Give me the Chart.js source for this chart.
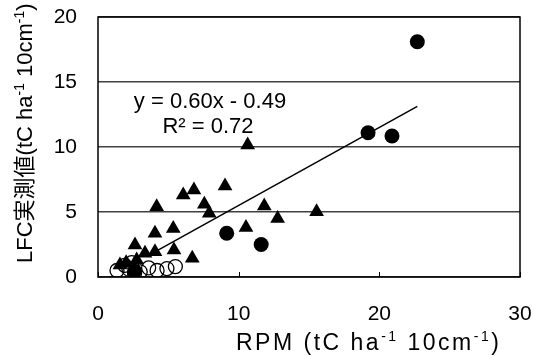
<!DOCTYPE html>
<html>
<head>
<meta charset="utf-8">
<script src="https://cdn.jsdelivr.net/npm/chart.js@4/dist/chart.umd.min.js"></script>
<style>
html,body{margin:0;padding:0;background:#fff;}
#wrap{width:534px;height:356px;}
</style>
</head>
<body>
<div id="wrap"><canvas id="c" width="534" height="356"></canvas></div>
<script>
// ---- data ----
const filledCircleX = [22.7, 19.2, 20.9, 9.15, 11.6, 2.6];
const filledCircleY = [18.1, 11.1, 10.85, 3.36, 2.5, 0.45];

const triangleX = [10.64, 6.06, 6.82, 9.03, 7.56, 7.91, 11.82, 12.77, 10.52, 5.35, 5.4, 6.7, 15.54, 4.17, 4.05, 2.63, 3.34, 4.05, 2.75, 2.0, 1.56];
const triangleY = [10.15, 6.3, 6.7, 7.0, 5.6, 4.9, 5.46, 4.5, 3.8, 3.74, 2.08, 1.44, 5.02, 5.4, 3.36, 2.46, 1.82, 1.95, 1.3, 1.1, 0.92];

const openCircleX = [1.35, 1.9, 2.4, 2.2, 3.0, 3.6, 4.2, 4.9, 5.5, 2.6];
const openCircleY = [0.5, 0.9, 1.1, 0.6, 0.4, 0.7, 0.5, 0.65, 0.8, 0.3];

const trendSlope = 0.60;
const trendIntercept = -0.49;
const trendRangeX = [3.5, 22.7];
const equationLines = ["y = 0.60x - 0.49", "R\u00b2 = 0.72"];

const xTicks = [0, 10, 20, 30];
const yTicks = [0, 5, 10, 15, 20];

const xTitleParts = [["RPM (tC ha", false], ["-1", true], [" 10cm", false], ["-1", true], [")", false]];
const yTitleParts = [["LFC実測値(tC ha", false], ["-1", true], [" 10cm", false], ["-1", true], [")", false]];

// ---- build ----
const pts = (xs, ys) => xs.map((x, i) => ({x: x, y: ys[i]}));
const trendData = trendRangeX.map(x => ({x: x, y: trendSlope * x + trendIntercept}));

const FONT = "'Liberation Sans', Arial, 'Noto Sans CJK JP', sans-serif";

function renderParts(ctx, parts, size, x0, baseline, spacing) {
  const supSize = Math.round(size * 0.62);
  let x = x0;
  parts.forEach(p => {
    ctx.font = (p[1] ? supSize : size) + "px " + FONT;
    for (const ch of p[0]) {
      ctx.fillText(ch, x, p[1] ? baseline - size * 0.38 : baseline);
      x += ctx.measureText(ch).width + (spacing || 0);
    }
  });
}

const decor = {
  id: 'decor',
  afterDraw(chart) {
    const ctx = chart.ctx;
    const a = chart.chartArea;
    const xs = chart.scales.x;
    ctx.save();
    // frame
    ctx.strokeStyle = '#000';
    ctx.lineWidth = 1.5;
    ctx.strokeRect(a.left, a.top, a.right - a.left, a.bottom - a.top);
    // inward x tick marks
    ctx.lineWidth = 1;
    xTicks.forEach(v => {
      const px = Math.round(xs.getPixelForValue(v)) + 0.5;
      ctx.beginPath();
      ctx.moveTo(px, a.bottom);
      ctx.lineTo(px, a.bottom - 5);
      ctx.stroke();
    });
    ctx.fillStyle = '#000';
    ctx.textBaseline = 'alphabetic';
    ctx.textAlign = 'left';
    // x title
    renderParts(ctx, xTitleParts, 23, 236, 350, 2.5);
    // y title
    ctx.save();
    ctx.translate(32, 263);
    ctx.rotate(-Math.PI / 2);
    renderParts(ctx, yTitleParts, 22, 0, 0, 0);
    ctx.restore();
    // equation
    ctx.textAlign = 'center';
    ctx.font = "22px " + FONT;
    ctx.fillText(equationLines[0], 210, 108);
    ctx.fillText(equationLines[1], 208, 133);
    ctx.restore();
  }
};

new Chart(document.getElementById('c'), {
  type: 'scatter',
  data: {
    datasets: [
      {
        label: 'filled',
        data: pts(filledCircleX, filledCircleY),
        pointStyle: 'circle',
        pointRadius: 7.5,
        pointBackgroundColor: '#000',
        pointBorderColor: '#000',
        pointBorderWidth: 0
      },
      {
        label: 'triangles',
        data: pts(triangleX, triangleY),
        pointStyle: 'triangle',
        pointRadius: 8.5,
        pointBackgroundColor: '#000',
        pointBorderColor: '#000',
        pointBorderWidth: 0
      },
      {
        label: 'open',
        data: pts(openCircleX, openCircleY),
        pointStyle: 'circle',
        pointRadius: 7,
        pointBackgroundColor: 'rgba(255,255,255,0)',
        pointBorderColor: '#000',
        pointBorderWidth: 1.3
      },
      {
        type: 'line',
        label: 'trend',
        data: trendData,
        borderColor: '#000',
        borderWidth: 1.5,
        pointRadius: 0,
        fill: false
      }
    ]
  },
  options: {
    responsive: false,
    devicePixelRatio: 1,
    animation: false,
    layout: {padding: {top: 17, right: 14, left: 0, bottom: 0}},
    plugins: {legend: {display: false}, tooltip: {enabled: false}},
    scales: {
      x: {
        type: 'linear',
        min: 0, max: 30,
        afterBuildTicks: s => { s.ticks = xTicks.map(v => ({value: v})); },
        afterFit: s => { s.height = 79; s.paddingLeft = 0; s.paddingRight = 0; },
        ticks: {color: '#000', font: {size: 21, family: FONT}, padding: 25, maxRotation: 0},
        grid: {display: false, drawTicks: false},
        border: {display: false}
      },
      y: {
        type: 'linear',
        min: 0, max: 20,
        afterBuildTicks: s => { s.ticks = yTicks.map(v => ({value: v})); },
        afterFit: s => { s.width = 98; s.paddingTop = 0; s.paddingBottom = 0; },
        ticks: {color: '#000', font: {size: 21, family: FONT}, padding: 21},
        grid: {color: '#404040', lineWidth: 1.5, drawTicks: false},
        border: {display: false}
      }
    }
  },
  plugins: [decor]
});
</script>
</body>
</html>
